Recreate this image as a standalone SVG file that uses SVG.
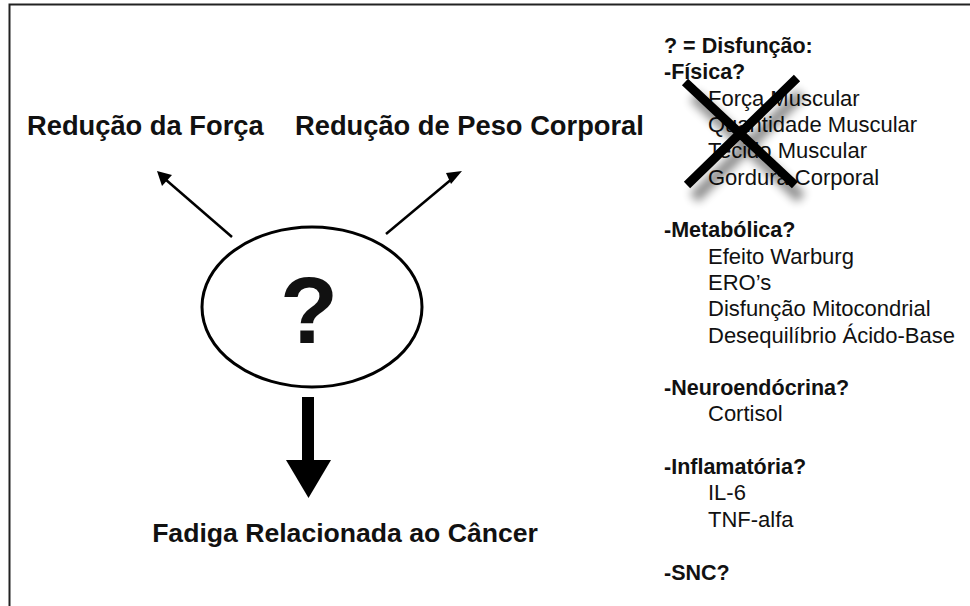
<svg xmlns="http://www.w3.org/2000/svg" width="970" height="606" viewBox="0 0 970 606">
<defs>
<style>
.b{font-family:"Liberation Sans",Arial,sans-serif;font-weight:bold;fill:#111}
.r{font-family:"Liberation Sans",Arial,sans-serif;fill:#111}
.c{font-size:21.5px}
.d{font-size:22px}
.l{font-size:27.3px}
</style>
<filter id="sh" x="-30%" y="-30%" width="160%" height="160%"><feGaussianBlur stdDeviation="5"/></filter>
</defs>
<rect width="970" height="606" fill="#fff"/>
<path d="M9.5 606V4.5H970" fill="none" stroke="#222" stroke-width="2"/>
<g id="label-forca"><text class="b l" x="27" y="135">Redução da Força</text></g>
<g id="label-peso"><text class="b l" x="295" y="135">Redução de Peso Corporal</text></g>
<g id="node-question">
<ellipse cx="312" cy="307" rx="110" ry="80" fill="#fff" stroke="#000" stroke-width="3"/>
<text class="b" x="309" y="343" font-size="95" text-anchor="middle" fill="#000">?</text>
</g>
<g id="label-fadiga"><text class="b" x="345" y="542" font-size="26.6" text-anchor="middle">Fadiga Relacionada ao Câncer</text></g>
<g id="connectors" stroke="#000" fill="#000">
<line x1="232" y1="237" x2="165" y2="179" stroke-width="2.5"/>
<polygon points="157,171 172,175 162,186" stroke="none"/>
<line x1="386" y1="234" x2="453" y2="178" stroke-width="2.5"/>
<polygon points="462,171 451,184 446,173" stroke="none"/>
<rect x="302" y="397" width="12" height="64" stroke="none"/>
<polygon points="286,460 331,460 308.5,498" stroke="none"/>
</g>
<g id="legend">
<text class="b c" x="664" y="53">? = Disfunção:</text>
<text class="b c" x="664" y="79">-Física?</text>
<text class="r d" x="708" y="105.5">Força Muscular</text>
<text class="r d" x="708" y="132">Quantidade Muscular</text>
<text class="r d" x="708" y="158">Tecido Muscular</text>
<text class="r d" x="708" y="184.5">Gordura Corporal</text>
<g id="cross">
<path d="M690 88L797 190M797 86L690 190" stroke="#000" stroke-width="12" opacity="0.45" filter="url(#sh)" transform="translate(4,8)"/>
<path d="M685 82L795 185M797 78L687 185" stroke="#000" stroke-width="9"/>
</g>
<text class="b c" x="664" y="237">-Metabólica?</text>
<text class="r d" x="708" y="263.5">Efeito Warburg</text>
<text class="r d" x="708" y="290">ERO’s</text>
<text class="r d" x="708" y="316">Disfunção Mitocondrial</text>
<text class="r d" x="708" y="342.5">Desequilíbrio Ácido-Base</text>
<text class="b c" x="664" y="395">-Neuroendócrina?</text>
<text class="r d" x="708" y="421">Cortisol</text>
<text class="b c" x="664" y="474">-Inflamatória?</text>
<text class="r d" x="708" y="500">IL-6</text>
<text class="r d" x="708" y="527">TNF-alfa</text>
<text class="b c" x="664" y="580">-SNC?</text>
</g>
</svg>
